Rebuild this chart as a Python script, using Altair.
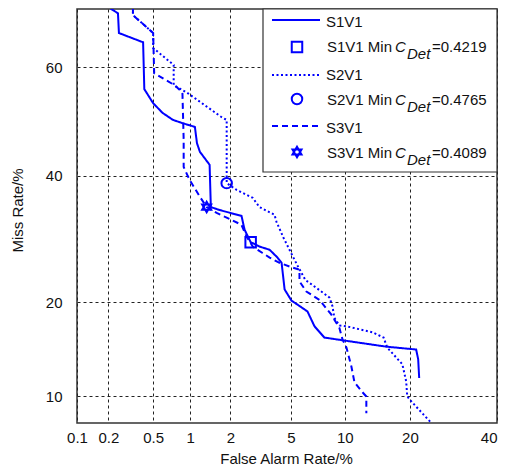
import altair as alt
import pandas as pd
from statistics import NormalDist

# ---- data (percent) ----
s1_fa = [0.20, 0.245, 0.25, 0.41, 0.42, 0.50, 0.60, 0.73, 0.87, 1.09, 1.13, 1.19, 1.41, 1.44, 1.67,
         2.39, 2.51, 2.76, 3.16, 3.68, 4.13, 4.38, 4.57, 5.03, 5.62, 6.26, 6.86, 7.79, 9.73, 15.85,
         21.2, 21.6, 21.8]
s1_miss = [70.3, 69.3, 66.0, 64.4, 56.0, 53.4, 51.6, 50.3, 49.7, 49.0, 46.0, 44.4, 42.0, 34.5, 34.0,
           33.0, 30.7, 28.7, 28.0, 27.5, 26.3, 25.5, 21.7, 20.2, 19.5, 18.8, 17.0, 15.7, 15.4, 14.7,
           14.4, 13.4, 11.6]

s2_fa = [0.334, 0.334, 0.50, 0.50, 0.74, 0.74, 0.94, 1.73, 1.88, 1.88, 1.88, 2.21, 2.85, 3.16, 3.95,
         4.07, 4.50, 5.03, 5.47, 6.09, 7.13, 8.30, 8.61, 8.82, 9.38, 10.2, 13.7, 15.4, 16.0, 18.6,
         19.3, 19.5, 20.5, 24.3]
s2_miss = [70.3, 69.0, 66.0, 63.4, 60.4, 56.7, 55.4, 50.8, 50.3, 39.8, 38.7, 37.5, 36.1, 34.5, 33.2,
           32.0, 29.4, 26.9, 25.1, 23.0, 21.8, 20.6, 19.5, 18.0, 17.1, 17.0, 16.3, 15.7, 14.6, 12.9,
           11.3, 10.0, 9.5, 8.0]

s3_fa = [0.334, 0.334, 0.50, 0.51, 0.755, 0.87, 0.89, 0.89, 0.99, 1.19, 1.34, 1.59, 1.97, 2.39, 2.59,
         2.85, 3.31, 3.68, 4.25, 5.11, 5.62, 5.62, 6.17, 7.31, 8.50, 9.38, 9.73, 10.2, 10.8, 11.2,
         12.2, 12.8, 12.8]
s3_miss = [70.3, 69.0, 66.0, 58.9, 56.7, 55.4, 46.6, 41.6, 39.3, 36.3, 34.5, 33.5, 32.5, 31.5, 29.6,
           28.0, 27.0, 26.3, 25.5, 24.8, 24.5, 22.8, 21.4, 20.3, 18.4, 16.8, 15.5, 14.6, 12.7, 11.2,
           10.4, 10.0, 8.7]

series_names = ["S1V1", "S2V1", "S3V1"]
min_fa = [2.76, 1.88, 1.34]
min_miss = [28.7, 38.7, 34.5]
min_cdet = ["0.4219", "0.4765", "0.4089"]

x_ticks = [0.1, 0.2, 0.5, 1, 2, 5, 10, 20, 40]
y_ticks = [10, 20, 40, 60]
x_lim = [0.1, 40]
y_lim = [8, 70]

nd = NormalDist()


def probit(p):
    return nd.inv_cdf(p / 100.0)


rows = []
for name, fa, ms in zip(series_names, [s1_fa, s2_fa, s3_fa], [s1_miss, s2_miss, s3_miss]):
    for i, (f, m) in enumerate(zip(fa, ms)):
        rows.append({"series": name, "i": i, "fa": f, "miss": m})
curves = pd.DataFrame(rows)
mins = pd.DataFrame({"series": series_names, "fa": min_fa, "miss": min_miss})

BLUE = "#0000FF"
FONT = "Liberation Sans"
HEX = "M0,-1L0.866,0.5L-0.866,0.5Z M0,1L-0.866,-0.5L0.866,-0.5Z"
dash_range = [[1, 0], [2, 2.5], [6, 4]]

x_scale = alt.Scale(domain=[probit(v) for v in x_lim], nice=False, zero=False)
y_scale = alt.Scale(domain=[probit(v) for v in y_lim], nice=False, zero=False)
lab = "'' + round(cumulativeNormal(datum.value)*1000)/10"

x_enc = alt.X("xz:Q", scale=x_scale, axis=alt.Axis(
    values=[probit(v) for v in x_ticks], labelExpr=lab, title="False Alarm Rate/%",
    titleX=209, titleY=40, titleAlign="center", titleBaseline="alphabetic",
    labelPadding=7, labelFlush=False, labelOverlap=False,
    labelAlign={"condition": {"test": "datum.value > -0.3", "value": "right"}, "value": "center"}))
y_enc = alt.Y("yz:Q", scale=y_scale, axis=alt.Axis(
    values=[probit(v) for v in y_ticks], labelExpr=lab, title="Miss Rate/%",
    titleX=-60, titleY=201, titleAngle=270, titleAlign="center", titleBaseline="middle",
    labelPadding=15, labelBaseline="middle"))

calc = dict(xz="quantileNormal(datum.fa/100)", yz="quantileNormal(datum.miss/100)")

lines = alt.Chart(curves).transform_calculate(**calc).mark_line(
    color=BLUE, strokeWidth=2, clip=True).encode(
    x=x_enc, y=y_enc,
    detail="series:N",
    order="i:Q",
    strokeDash=alt.StrokeDash("series:N", scale=alt.Scale(domain=series_names, range=dash_range),
                              legend=None))

markers = alt.Chart(mins).transform_calculate(**calc).mark_point(
    color=BLUE, filled=False, strokeWidth=2, size=110, opacity=1).encode(
    x="xz:Q", y="yz:Q",
    shape=alt.Shape("series:N", scale=alt.Scale(domain=series_names, range=["square", "circle", HEX]),
                    legend=None))

one = pd.DataFrame({"d": [0]})
legend_layers = [
    alt.Chart(one).mark_rect(fill="white", stroke="#333", strokeWidth=1.2).encode(
        x=alt.value(186), x2=alt.value(420), y=alt.value(0), y2=alt.value(163))
]

text_kw = dict(font=FONT, fontSize=15, align="left", baseline="alphabetic", color="#111")
line_y = [11, 66, 117]
marker_y = [38, 90, 143]
name_base = [18, 71, 124]
min_base = [43, 96, 149]
shapes = ["square", "circle", HEX]
for k, name in enumerate(series_names):
    legend_layers.append(alt.Chart(one).mark_rule(
        color=BLUE, strokeWidth=2, strokeDash=dash_range[k]).encode(
        x=alt.value(195), x2=alt.value(243), y=alt.value(line_y[k])))
    legend_layers.append(alt.Chart(one).mark_text(**text_kw).encode(
        x=alt.value(249), y=alt.value(name_base[k]), text=alt.value(name)))
    legend_layers.append(alt.Chart(one).mark_point(
        color=BLUE, filled=False, strokeWidth=2, size=110, opacity=1, shape=shapes[k]).encode(
        x=alt.value(220), y=alt.value(marker_y[k])))
    legend_layers.append(alt.Chart(one).mark_text(**text_kw).encode(
        x=alt.value(250), y=alt.value(min_base[k]), text=alt.value(name + " Min")))
    legend_layers.append(alt.Chart(one).mark_text(fontStyle="italic", **text_kw).encode(
        x=alt.value(318), y=alt.value(min_base[k]), text=alt.value("C")))
    legend_layers.append(alt.Chart(one).mark_text(fontStyle="italic", **text_kw).encode(
        x=alt.value(330), y=alt.value(min_base[k] + 7), text=alt.value("Det")))
    legend_layers.append(alt.Chart(one).mark_text(**text_kw).encode(
        x=alt.value(355), y=alt.value(min_base[k]), text=alt.value("=" + min_cdet[k])))

chart = alt.layer(lines, markers, *legend_layers).properties(
    width=420, height=414,
    autosize=alt.AutoSizeParams(type="none"),
    padding={"left": 69, "top": 1, "right": 1, "bottom": 45},
).configure_view(
    stroke="#333", strokeWidth=1.5
).configure_axis(
    grid=True, gridColor="#222", gridDash=[3, 3], gridWidth=1, gridOpacity=1,
    domain=False, ticks=False,
    labelFont=FONT, labelFontSize=15, labelColor="#111",
    titleFont=FONT, titleFontSize=15, titleColor="#111", titleFontWeight="normal",
)

chart.save("out.html", embed_options={"renderer": "svg", "actions": False})
